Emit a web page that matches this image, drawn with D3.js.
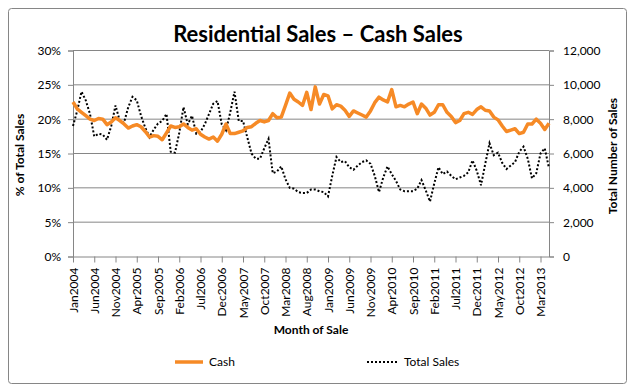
<!DOCTYPE html>
<html>
<head>
<meta charset="utf-8">
<title>Residential Sales - Cash Sales</title>
<script src="https://d3js.org/d3.v7.min.js"></script>
<style>
  body { margin: 0; background: #fff; }
  svg { font-family: Lato, "Open Sans", sans-serif; }
</style>
</head>
<body>
<svg id="chart"></svg>
<script>

// monthly, Jan 2004 .. May 2013
var monthNames = ['Jan','Feb','Mar','Apr','May','Jun','Jul','Aug','Sep','Oct','Nov','Dec']
var startYear = 2004, nMonths = 113

var cashPct = [
  22.5, 21.5, 21.0, 20.5, 20.0, 19.8, 20.1, 20.0, 19.2, 19.6, 20.2, 19.8,
  19.3, 18.7, 19.0, 19.2, 18.9, 18.2, 17.4, 17.6, 17.5, 17.0, 18.0, 19.0,
  18.8, 18.9, 19.3, 18.8, 18.4, 18.6, 17.8, 17.4, 17.1, 17.4, 16.8, 17.8,
  19.3, 17.9, 17.9, 18.1, 18.3, 18.8, 18.9, 19.4, 19.8, 19.6, 19.8, 20.8,
  20.2, 20.3, 22.0, 23.8, 22.9, 22.5, 22.0, 23.9, 21.4, 24.7, 22.2, 23.6,
  23.4, 21.5, 22.1, 21.9, 21.3, 20.4, 21.2, 20.9, 20.6, 20.3, 21.2, 22.4,
  23.2, 22.8, 22.5, 24.3, 21.8, 22.0, 21.8, 22.2, 22.5, 20.8, 22.2, 21.6,
  20.6, 21.0, 22.1, 22.1, 21.0, 20.4, 19.5, 19.8, 20.8, 21.0, 20.7, 21.4,
  21.8, 21.3, 21.2, 20.3, 19.9, 19.0, 18.2, 18.4, 18.6, 17.9, 18.1, 19.3,
  19.3, 20.0, 19.4, 18.5, 19.4
]

var totalSales = [
  7600, 8500, 9600, 9100, 8300, 7000, 7150, 7100, 6800, 7600, 8800, 7900,
  7800, 8700, 9300, 9100, 8200, 7500, 6950, 7400, 7750, 7900, 8300, 6100,
  6050, 7200, 8700, 7700, 8200, 7150, 7250, 7700, 8300, 8900, 9050, 7700,
  7350, 8400, 9600, 7900, 7900, 6950, 6000, 5700, 5700, 6300, 6850, 4850,
  4950, 5250, 4500, 4000, 3950, 3750, 3700, 3700, 3900, 3900, 3800, 3750,
  3500, 4700, 5800, 5500, 5550, 5200, 5050, 5300, 5500, 5600, 5400, 4700,
  3750, 4600, 5250, 4800, 4400, 3900, 3800, 3800, 3800, 3950, 4450, 3850,
  3200, 4250, 5200, 4800, 4950, 4700, 4500, 4600, 4700, 4900, 5600, 5000,
  4150, 5400, 6600, 5900, 6050, 5450, 5100, 5300, 5500, 6100, 6400, 5700,
  4550, 4850, 6000, 6300, 5150
]

var leftTicks = [0, 5, 10, 15, 20, 25, 30]
var rightTicks = [0, 2000, 4000, 6000, 8000, 10000, 12000]

var months = d3.range(nMonths).map(function(i){
  return monthNames[i % 12] + (startYear + Math.floor(i / 12))
})

var W = 634, H = 392
var plot = {left: 73, right: 549, top: 50.5, bottom: 256.5}
var grey = '#868686'

var svg = d3.select('#chart').attr('width', W).attr('height', H)

// chart area border
svg.append('rect')
  .attr('x', 8.5).attr('y', 8.5)
  .attr('width', 618).attr('height', 375)
  .attr('rx', 3)
  .attr('fill', '#fff')
  .attr('stroke', grey)

var x = d3.scalePoint().domain(months).range([plot.left, plot.right])
var yL = d3.scaleLinear().domain([0, 30]).range([plot.bottom, plot.top])
var yR = d3.scaleLinear().domain([0, 12000]).range([plot.bottom, plot.top])

// gridlines
svg.append('g')
  .selectAll('line')
  .data(leftTicks.slice(1))
  .enter().append('line')
  .attr('x1', plot.left).attr('x2', plot.right)
  .attr('y1', function(d){ return yL(d) })
  .attr('y2', function(d){ return yL(d) })
  .attr('stroke', grey)

// axes
var leftAxis = d3.axisLeft(yL).tickValues(leftTicks)
  .tickFormat(function(d){ return d + '%' }).tickSize(5).tickPadding(7)
var rightAxis = d3.axisRight(yR).tickValues(rightTicks)
  .tickFormat(d3.format(',')).tickSize(5).tickPadding(9)
var bottomAxis = d3.axisBottom(x)
  .tickValues(months.filter(function(d, i){ return i % 5 === 0 }))
  .tickSize(6).tickPadding(5)

function styleAxis(g){
  g.select('.domain').attr('stroke', grey)
  g.selectAll('.tick line').attr('stroke', grey)
  g.selectAll('text').attr('fill', '#000').style('font-size', '12px')
    .style('font-family', 'Lato, sans-serif')
}

svg.append('g').attr('transform', 'translate(' + plot.left + ',0)')
  .call(leftAxis).call(styleAxis)
svg.append('g').attr('transform', 'translate(' + plot.right + ',0)')
  .call(rightAxis).call(styleAxis)
  .selectAll('text').attr('text-anchor', 'start')

var xg = svg.append('g').attr('transform', 'translate(0,' + plot.bottom + ')')
  .call(bottomAxis).call(styleAxis)
xg.select('.domain').attr('d', 'M' + plot.left + ',0.5H' + plot.right)
xg.selectAll('text')
  .attr('transform', 'rotate(-90)')
  .attr('text-anchor', 'end')
  .attr('x', -11).attr('y', 0).attr('dy', '0.35em')

// lines
var cashLine = d3.line()
  .x(function(d, i){ return x(months[i]) })
  .y(function(d){ return yL(d) })
var totalLine = d3.line()
  .x(function(d, i){ return x(months[i]) })
  .y(function(d){ return yR(d) })

svg.append('path').datum(totalSales)
  .attr('d', totalLine)
  .attr('fill', 'none')
  .attr('stroke', '#000')
  .attr('stroke-width', 2)
  .attr('stroke-dasharray', '2,2')

svg.append('path').datum(cashPct)
  .attr('d', cashLine)
  .attr('fill', 'none')
  .attr('stroke', '#F68A26')
  .attr('stroke-width', 3.5)
  .attr('stroke-linejoin', 'round')

// titles
svg.append('text')
  .attr('x', 318).attr('y', 42)
  .attr('text-anchor', 'middle')
  .style('font-size', '22px').style('font-weight', 'bold')
  .text('Residential Sales \u2013 Cash Sales')

svg.append('text')
  .attr('transform', 'translate(24,' + 155 + ') rotate(-90)')
  .attr('text-anchor', 'middle')
  .style('font-size', '12px').style('font-weight', 'bold')
  .text('% of Total Sales')

svg.append('text')
  .attr('transform', 'translate(617,' + 156 + ') rotate(-90)')
  .attr('text-anchor', 'middle')
  .style('font-size', '12px').style('font-weight', 'bold')
  .text('Total Number of Sales')

svg.append('text')
  .attr('x', 311).attr('y', 334)
  .attr('text-anchor', 'middle')
  .style('font-size', '12px').style('font-weight', 'bold')
  .text('Month of Sale')

// legend
var legend = [
  {name: 'Cash', x: 175, len: 28, color: '#F68A26', width: 3.5, dash: null},
  {name: 'Total Sales', x: 367, len: 31, color: '#000', width: 2, dash: '2,2'}
]
var lg = svg.append('g').selectAll('g').data(legend).enter().append('g')
lg.append('line')
  .attr('x1', function(d){ return d.x }).attr('x2', function(d){ return d.x + d.len })
  .attr('y1', 362).attr('y2', 362)
  .attr('stroke', function(d){ return d.color })
  .attr('stroke-width', function(d){ return d.width })
  .attr('stroke-dasharray', function(d){ return d.dash })
lg.append('text')
  .attr('x', function(d){ return d.x + d.len + 6 }).attr('y', 366)
  .style('font-size', '12px')
  .text(function(d){ return d.name })

</script>
</body>
</html>
